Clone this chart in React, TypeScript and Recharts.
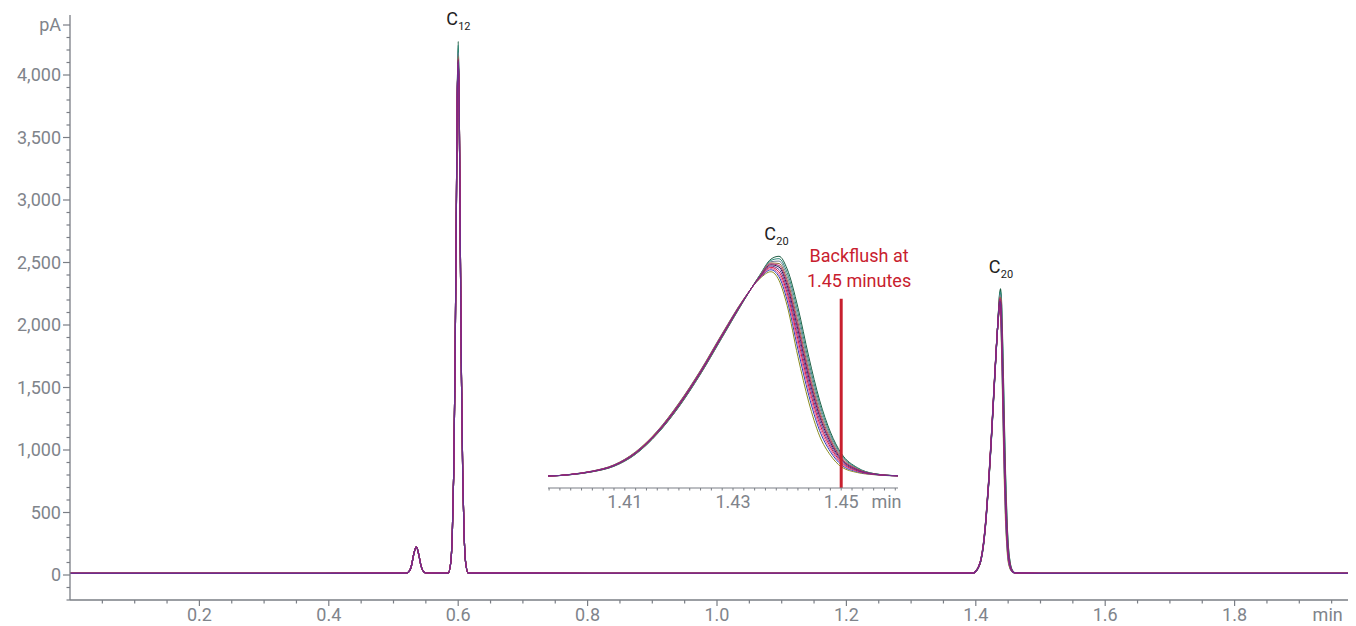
import { LineChart, Line, XAxis, YAxis, ReferenceDot, ReferenceLine } from 'recharts'

// retention time (min) vs FID signal (pA), 11 overlaid runs
const baselineTimes = [0, 0.3, 0.8, 1.2, 1.5, 2.0]
const baselineValues = [13, 13, 14, 14, 13, 13]

const smallPeakTimes = [0.52, 0.525, 0.528, 0.531, 0.5353, 0.539, 0.542, 0.545, 0.55]
const smallPeakValues = [15, 35, 80, 160, 225, 165, 85, 38, 16]

// C12 flanks are shared, apex differs per run
const c12Times = [0.5845, 0.5885, 0.591, 0.593, 0.595, 0.597, 0.5985, 0.6015, 0.603, 0.605, 0.607, 0.609, 0.6115, 0.6155]
const c12Values = [15, 100, 350, 800, 1600, 2800, 3800, 3800, 2800, 1600, 800, 350, 100, 15]
const c12ApexTime = 0.6
const c12Apex = [4270, 4240, 4180, 4150, 4060, 4100, 4120, 4090, 4080, 4130, 4110]

const c20Times = [1.396, 1.4, 1.404, 1.408, 1.412, 1.416, 1.42, 1.424, 1.428, 1.432, 1.435, 1.437, 1.4385, 1.44, 1.442, 1.444, 1.446, 1.448, 1.45, 1.453, 1.456, 1.4605]
const c20Runs = [
  [15, 28, 58, 115, 240, 450, 730, 1070, 1450, 1830, 2100, 2260, 2290, 2160, 1760, 1250, 800, 470, 250, 100, 40, 18],
  [15, 28, 59, 117, 243, 453, 734, 1074, 1454, 1832, 2096, 2247, 2265, 2122, 1709, 1198, 763, 446, 236, 95, 39, 18],
  [15, 29, 60, 118, 245, 456, 738, 1078, 1458, 1834, 2092, 2234, 2240, 2084, 1658, 1152, 726, 422, 222, 90, 38, 18],
  [15, 29, 60, 120, 248, 459, 742, 1082, 1462, 1836, 2088, 2221, 2215, 2046, 1607, 1105, 689, 398, 206, 85, 36, 17],
  [15, 32, 66, 130, 265, 480, 770, 1110, 1490, 1850, 2060, 2130, 2040, 1780, 1250, 780, 430, 230, 110, 50, 28, 16],
  [15, 31, 65, 128, 261, 476, 764, 1104, 1484, 1847, 2066, 2150, 2078, 1837, 1327, 851, 486, 266, 131, 58, 30, 16],
  [15, 30, 62, 122, 251, 464, 748, 1088, 1468, 1839, 2082, 2202, 2178, 1989, 1531, 1037, 634, 362, 187, 78, 35, 17],
  [15, 31, 64, 126, 259, 473, 760, 1100, 1480, 1845, 2070, 2163, 2103, 1875, 1378, 898, 523, 290, 145, 63, 31, 17],
  [15, 31, 63, 125, 256, 470, 756, 1096, 1476, 1843, 2074, 2176, 2128, 1913, 1429, 944, 560, 314, 159, 68, 32, 17],
  [15, 30, 61, 121, 250, 461, 745, 1085, 1465, 1838, 2085, 2211, 2195, 2016, 1566, 1069, 659, 379, 197, 81, 35, 17],
  [15, 30, 62, 123, 254, 467, 752, 1092, 1472, 1841, 2078, 2189, 2153, 1951, 1480, 990, 597, 338, 173, 73, 33, 17],
]
const runColors = ['#1f5f45', '#2e8b7b', '#707c96', '#9c6b3c', '#8b8b1f', '#2b3db5', '#222255', '#df5a9c', '#d2163e', '#b3236f', '#6c2d8e']

const yLabels = [0, 500, 1000, 1500, 2000, 2500, 3000, 3500, 4000]
const xLabels = [0.2, 0.4, 0.6, 0.8, 1.0, 1.2, 1.4, 1.6, 1.8]
const insetLabels = [1.41, 1.43, 1.45]

const AXIS = '#7a7e85'
const TEXT = '#80848b'
const RED = '#c8202e'

const runs = runColors.map((color, i) => {
  const pts = [
    ...baselineTimes.map((t, k) => ({ t, v: baselineValues[k] })),
    ...smallPeakTimes.map((t, k) => ({ t, v: smallPeakValues[k] })),
    ...c12Times.map((t, k) => ({ t, v: c12Values[k] })),
    { t: c12ApexTime, v: c12Apex[i] },
    ...c20Times.map((t, k) => ({ t, v: c20Runs[i][k] })),
  ].sort((a, b) => a.t - b.t)
  return { color, data: pts }
})

const yTicks: number[] = []
for (let v = -200; v <= 4400; v += 100) yTicks.push(v)
const xTicks: number[] = []
for (let k = 1; k <= 39; k++) xTicks.push(k * 0.05)
const insetTicks: number[] = []
for (let k = 698; k <= 730; k++) insetTicks.push(k * 0.002)

function MainYTick({ x, y, payload }: any) {
  const v = Math.round(payload.value)
  const isLabel = yLabels.includes(v) || v === 4400
  const text = v === 4400 ? 'pA' : isLabel ? v.toLocaleString('en-US') : ''
  return (
    <g>
      <line x1={x - (isLabel ? 7 : 3.5)} x2={x} y1={y} y2={y} stroke={AXIS} strokeWidth={1.2} />
      {text && (
        <text x={x - 9} y={y} dy="0.36em" textAnchor="end" fontSize={18} fill={TEXT}>{text}</text>
      )}
    </g>
  )
}

function MainXTick({ x, y, payload }: any) {
  const v = Math.round(payload.value * 100) / 100
  const isLabel = xLabels.some((l) => Math.abs(l - v) < 1e-6)
  const isUnit = Math.abs(v - 1.95) < 1e-6
  return (
    <g>
      <line x1={x} x2={x} y1={y} y2={y + (isLabel ? 6 : 3.5)} stroke={AXIS} strokeWidth={1.2} />
      {isLabel && <text x={x} y={y + 21} textAnchor="middle" fontSize={18} fill={TEXT}>{v.toFixed(1)}</text>}
      {isUnit && <text x={x - 4} y={y + 21} textAnchor="middle" fontSize={18} fill={TEXT}>min</text>}
    </g>
  )
}

function InsetXTick({ x, y, payload }: any) {
  const v = Math.round(payload.value * 1000) / 1000
  const isLabel = insetLabels.some((l) => Math.abs(l - v) < 1e-6)
  const isUnit = Math.abs(v - 1.458) < 1e-6
  return (
    <g>
      <line x1={x} x2={x} y1={y} y2={y + 2.5} stroke={AXIS} strokeWidth={1} />
      {isLabel && <text x={x} y={y + 20} textAnchor="middle" fontSize={18} fill={TEXT}>{v.toFixed(2)}</text>}
      {isUnit && <text x={x + 2} y={y + 20} textAnchor="middle" fontSize={18} fill={TEXT}>min</text>}
    </g>
  )
}

function PeakLabel({ cx, cy, sub }: any) {
  return (
    <g>
      <text x={cx - 12} y={cy - 16} fontSize={18} fill="#222">C</text>
      <text x={cx} y={cy - 11} fontSize={11} fill="#222">{sub}</text>
    </g>
  )
}

function BackflushLabel({ cx, cy }: any) {
  return (
    <g>
      <text x={cx} y={cy} textAnchor="middle" fontSize={18} fill={RED}>Backflush at</text>
      <text x={cx} y={cy + 25} textAnchor="middle" fontSize={18} fill={RED}>1.45 minutes</text>
    </g>
  )
}

export default function App() {
  return (
    <div style={{ position: 'relative', width: 1348, height: 618, overflow: 'hidden', fontFamily: 'Roboto, sans-serif' }}>
      <LineChart width={1356} height={618} margin={{ top: 7, right: 0, bottom: 0, left: 0 }}>
        <XAxis
          dataKey="t" type="number" domain={[0, 2]} ticks={xTicks} interval={0}
          allowDataOverflow height={26} tickSize={0} tickMargin={0} tickLine={false}
          axisLine={{ stroke: AXIS, strokeWidth: 1.3 }}
          tick={(p: any) => <MainXTick {...p} />}
        />
        <YAxis
          type="number" domain={[-200, 4480]} ticks={yTicks} interval={0}
          allowDataOverflow width={62} tickSize={0} tickMargin={0} tickLine={false}
          axisLine={{ stroke: AXIS, strokeWidth: 1.3 }}
          tick={(p: any) => <MainYTick {...p} />}
        />
        {runs.map((r, i) => (
          <Line key={i} data={r.data} dataKey="v" type="monotone" stroke={r.color}
            strokeWidth={1.2} dot={false} isAnimationActive={false} />
        ))}
        <ReferenceDot x={0.6} y={4270} r={0} shape={(p: any) => <PeakLabel {...p} sub="12" />} />
        <ReferenceDot x={1.4385} y={2290} r={0} shape={(p: any) => <PeakLabel {...p} sub="20" />} />
      </LineChart>

      <div style={{ position: 'absolute', left: 540, top: 208 }}>
        <LineChart width={380} height={310} margin={{ top: 20, right: 30, bottom: 0, left: 0 }}>
          <XAxis
            dataKey="t" type="number" domain={[1.3958, 1.4605]} ticks={insetTicks} interval={0}
            allowDataOverflow height={38} tickSize={0} tickMargin={0} tickLine={false}
            axisLine={{ stroke: AXIS, strokeWidth: 1.2 }}
            tick={(p: any) => <InsetXTick {...p} />}
          />
          <YAxis type="number" domain={[-110, 2500]} allowDataOverflow hide />
          {runs.map((r, i) => (
            <Line key={i} data={r.data} dataKey="v" type="monotone" stroke={r.color}
              strokeWidth={1} dot={false} isAnimationActive={false} />
          ))}
          <ReferenceLine
            segment={[{ x: 1.45, y: -110 }, { x: 1.45, y: 1850 }]}
            stroke={RED} strokeWidth={3} ifOverflow="visible"
          />
          <ReferenceDot x={1.438} y={2290} r={0} shape={(p: any) => <PeakLabel {...p} sub="20" />} />
          <ReferenceDot x={1.4533} y={2228} r={0} shape={(p: any) => <BackflushLabel {...p} />} />
        </LineChart>
      </div>
    </div>
  )
}
